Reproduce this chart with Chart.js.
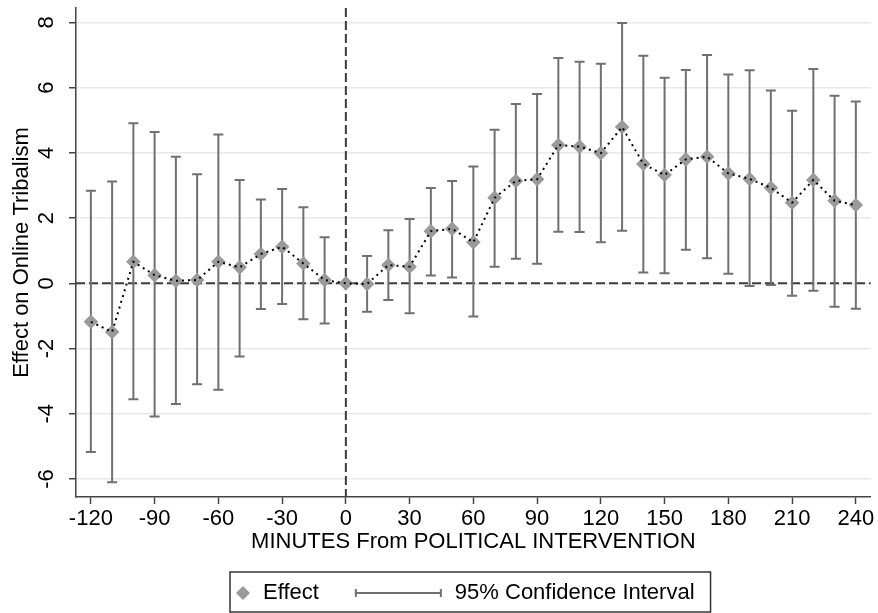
<!DOCTYPE html>
<html>
<head>
<meta charset="utf-8">
<script src="https://cdn.jsdelivr.net/npm/chart.js@4.4.0/dist/chart.umd.min.js"></script>
<style>
  body { margin: 0; background: #fff; }
</style>
</head>
<body>
<canvas id="myChart" width="878" height="613"></canvas>
<script>
// event-study estimates, one per 10-minute bin
var minutes = [-120, -110, -100, -90, -80, -70, -60, -50, -40, -30, -20, -10, 0,
               10, 20, 30, 40, 50, 60, 70, 80, 90, 100, 110, 120, 130, 140, 150,
               160, 170, 180, 190, 200, 210, 220, 230, 240];
var effect = [-1.18, -1.49, 0.66, 0.25, 0.08, 0.10, 0.66, 0.49, 0.90, 1.12, 0.61, 0.10, 0,
              -0.02, 0.56, 0.51, 1.60, 1.67, 1.26, 2.62, 3.14, 3.19, 4.24, 4.19, 3.99, 4.79,
              3.66, 3.32, 3.80, 3.88, 3.37, 3.20, 2.93, 2.47, 3.17, 2.53, 2.40];
var ciLow = [-5.17, -6.10, -3.55, -4.08, -3.70, -3.09, -3.26, -2.24, -0.79, -0.63, -1.10, -1.23, null,
             -0.87, -0.51, -0.92, 0.24, 0.18, -1.02, 0.51, 0.75, 0.60, 1.58, 1.57, 1.26, 1.61,
             0.33, 0.31, 1.03, 0.77, 0.29, -0.08, -0.05, -0.38, -0.23, -0.72, -0.78];
var ciHigh = [2.84, 3.12, 4.91, 4.64, 3.88, 3.34, 4.56, 3.17, 2.57, 2.89, 2.33, 1.41, null,
              0.84, 1.63, 1.97, 2.92, 3.14, 3.58, 4.71, 5.50, 5.80, 6.91, 6.79, 6.73, 7.98,
              6.98, 6.30, 6.54, 7.00, 6.40, 6.53, 5.91, 5.29, 6.57, 5.75, 5.57];
var xTicks = [-120, -90, -60, -30, 0, 30, 60, 90, 120, 150, 180, 210, 240];
var yTicks = [-6, -4, -2, 0, 2, 4, 6, 8];
var legendLabels = ["Effect", "95% Confidence Interval"];

var FONT = "'Liberation Sans', Arial, sans-serif";
var MARKER = "#9a9a9a", BAR = "#707070", AXIS = "#444";

Chart.defaults.font.family = FONT;
Chart.defaults.font.size = 22;
Chart.defaults.color = "#000";

var points = minutes.map(function(m, i) { return {x: m, y: effect[i]}; });

function diamond(ctx, x, y, r) {
    ctx.beginPath();
    ctx.moveTo(x - r, y); ctx.lineTo(x, y - r); ctx.lineTo(x + r, y); ctx.lineTo(x, y + r);
    ctx.closePath();
    ctx.fill();
}

// dashed zero lines + confidence interval bars, drawn under the markers
var ciBars = {
    id: "ciBars",
    beforeDatasetsDraw: function(chart) {
        var ctx = chart.ctx, xs = chart.scales.x, ys = chart.scales.y, a = chart.chartArea;
        ctx.save();
        ctx.strokeStyle = "#3c3c3c";
        ctx.lineWidth = 2;
        ctx.setLineDash([9, 4]);
        ctx.beginPath();
        ctx.moveTo(a.left, ys.getPixelForValue(0));
        ctx.lineTo(a.right, ys.getPixelForValue(0));
        ctx.moveTo(xs.getPixelForValue(0), a.top);
        ctx.lineTo(xs.getPixelForValue(0), a.bottom);
        ctx.stroke();

        ctx.setLineDash([]);
        ctx.strokeStyle = BAR;
        ctx.beginPath();
        minutes.forEach(function(m, i) {
            if (ciLow[i] === null) return;
            var x = xs.getPixelForValue(m);
            var y1 = ys.getPixelForValue(ciLow[i]), y2 = ys.getPixelForValue(ciHigh[i]);
            ctx.moveTo(x, y1); ctx.lineTo(x, y2);
            ctx.moveTo(x - 5, y1); ctx.lineTo(x + 5, y1);
            ctx.moveTo(x - 5, y2); ctx.lineTo(x + 5, y2);
        });
        ctx.stroke();
        ctx.restore();
    }
};

// boxed legend under the axis title
var boxLegend = {
    id: "boxLegend",
    afterDraw: function(chart) {
        var ctx = chart.ctx, a = chart.chartArea;
        ctx.save();
        ctx.font = "22px " + FONT;
        var w0 = ctx.measureText(legendLabels[0]).width;
        var w1 = ctx.measureText(legendLabels[1]).width;
        var boxW = 33 + w0 + 36 + 87 + 13 + w1 + 16;
        var left = Math.round((a.left + a.right) / 2 - 3 - boxW / 2), top = 572, h = 40;
        var cy = top + h / 2 + 1;
        ctx.fillStyle = "#fff";
        ctx.fillRect(left, top, boxW, h);
        ctx.strokeStyle = "#333";
        ctx.lineWidth = 1.5;
        ctx.strokeRect(left, top, boxW, h);

        ctx.fillStyle = MARKER;
        diamond(ctx, left + 13, cy, 7);
        ctx.fillStyle = "#000";
        ctx.textBaseline = "middle";
        ctx.textAlign = "left";
        ctx.fillText(legendLabels[0], left + 33, cy);

        var lx = left + 33 + w0 + 36;
        ctx.strokeStyle = BAR;
        ctx.lineWidth = 2;
        ctx.beginPath();
        ctx.moveTo(lx, cy); ctx.lineTo(lx + 87, cy);
        ctx.moveTo(lx + 1, cy - 4); ctx.lineTo(lx + 1, cy + 4);
        ctx.moveTo(lx + 86, cy - 4); ctx.lineTo(lx + 86, cy + 4);
        ctx.stroke();
        ctx.fillText(legendLabels[1], lx + 87 + 13, cy);
        ctx.restore();
    }
};

new Chart(document.getElementById("myChart").getContext("2d"), {
    type: "scatter",
    data: {
        datasets: [{
            label: legendLabels[0] + " line",
            data: points,
            showLine: true,
            borderColor: "#000",
            borderWidth: 2,
            borderDash: [2, 4],
            pointRadius: 0,
            fill: false
        }, {
            label: legendLabels[0],
            data: points,
            showLine: false,
            pointStyle: "rectRot",
            pointRadius: 7.3,
            pointBackgroundColor: MARKER,
            pointBorderWidth: 0
        }]
    },
    options: {
        responsive: false,
        animation: false,
        layout: { padding: { top: 8, right: 7, bottom: 51, left: 0 } },
        plugins: {
            legend: { display: false },
            tooltip: { enabled: false }
        },
        scales: {
            x: {
                type: "linear",
                min: -127,
                max: 247,
                afterBuildTicks: function(s) { s.ticks = xTicks.map(function(v) { return {value: v}; }); },
                afterFit: function(s) { s.height = 65; s.paddingLeft = 0; s.paddingRight = 0; },
                grid: { drawOnChartArea: false, tickLength: 7, tickColor: AXIS, tickWidth: 1.5 },
                border: { color: AXIS, width: 1.5 },
                ticks: { padding: 2, maxRotation: 0, autoSkip: false },
                title: { display: true, text: "MINUTES From POLITICAL INTERVENTION", padding: { top: 0, bottom: 7 } }
            },
            y: {
                min: -6.55,
                max: 8.44,
                afterBuildTicks: function(s) { s.ticks = yTicks.map(function(v) { return {value: v}; }); },
                afterFit: function(s) { s.width = 76; s.paddingTop = 0; s.paddingBottom = 0; },
                grid: { color: "#e8e8e8", lineWidth: 1.5, tickLength: 7, tickColor: AXIS, tickWidth: 1.5 },
                border: { color: AXIS, width: 1.5 },
                ticks: { minRotation: 90, maxRotation: 90, crossAlign: "center", padding: 12, autoSkip: false },
                title: { display: true, text: "Effect on Online Tribalism", padding: { top: 9, bottom: 0 } }
            }
        }
    },
    plugins: [ciBars, boxLegend]
});
</script>
</body>
</html>
